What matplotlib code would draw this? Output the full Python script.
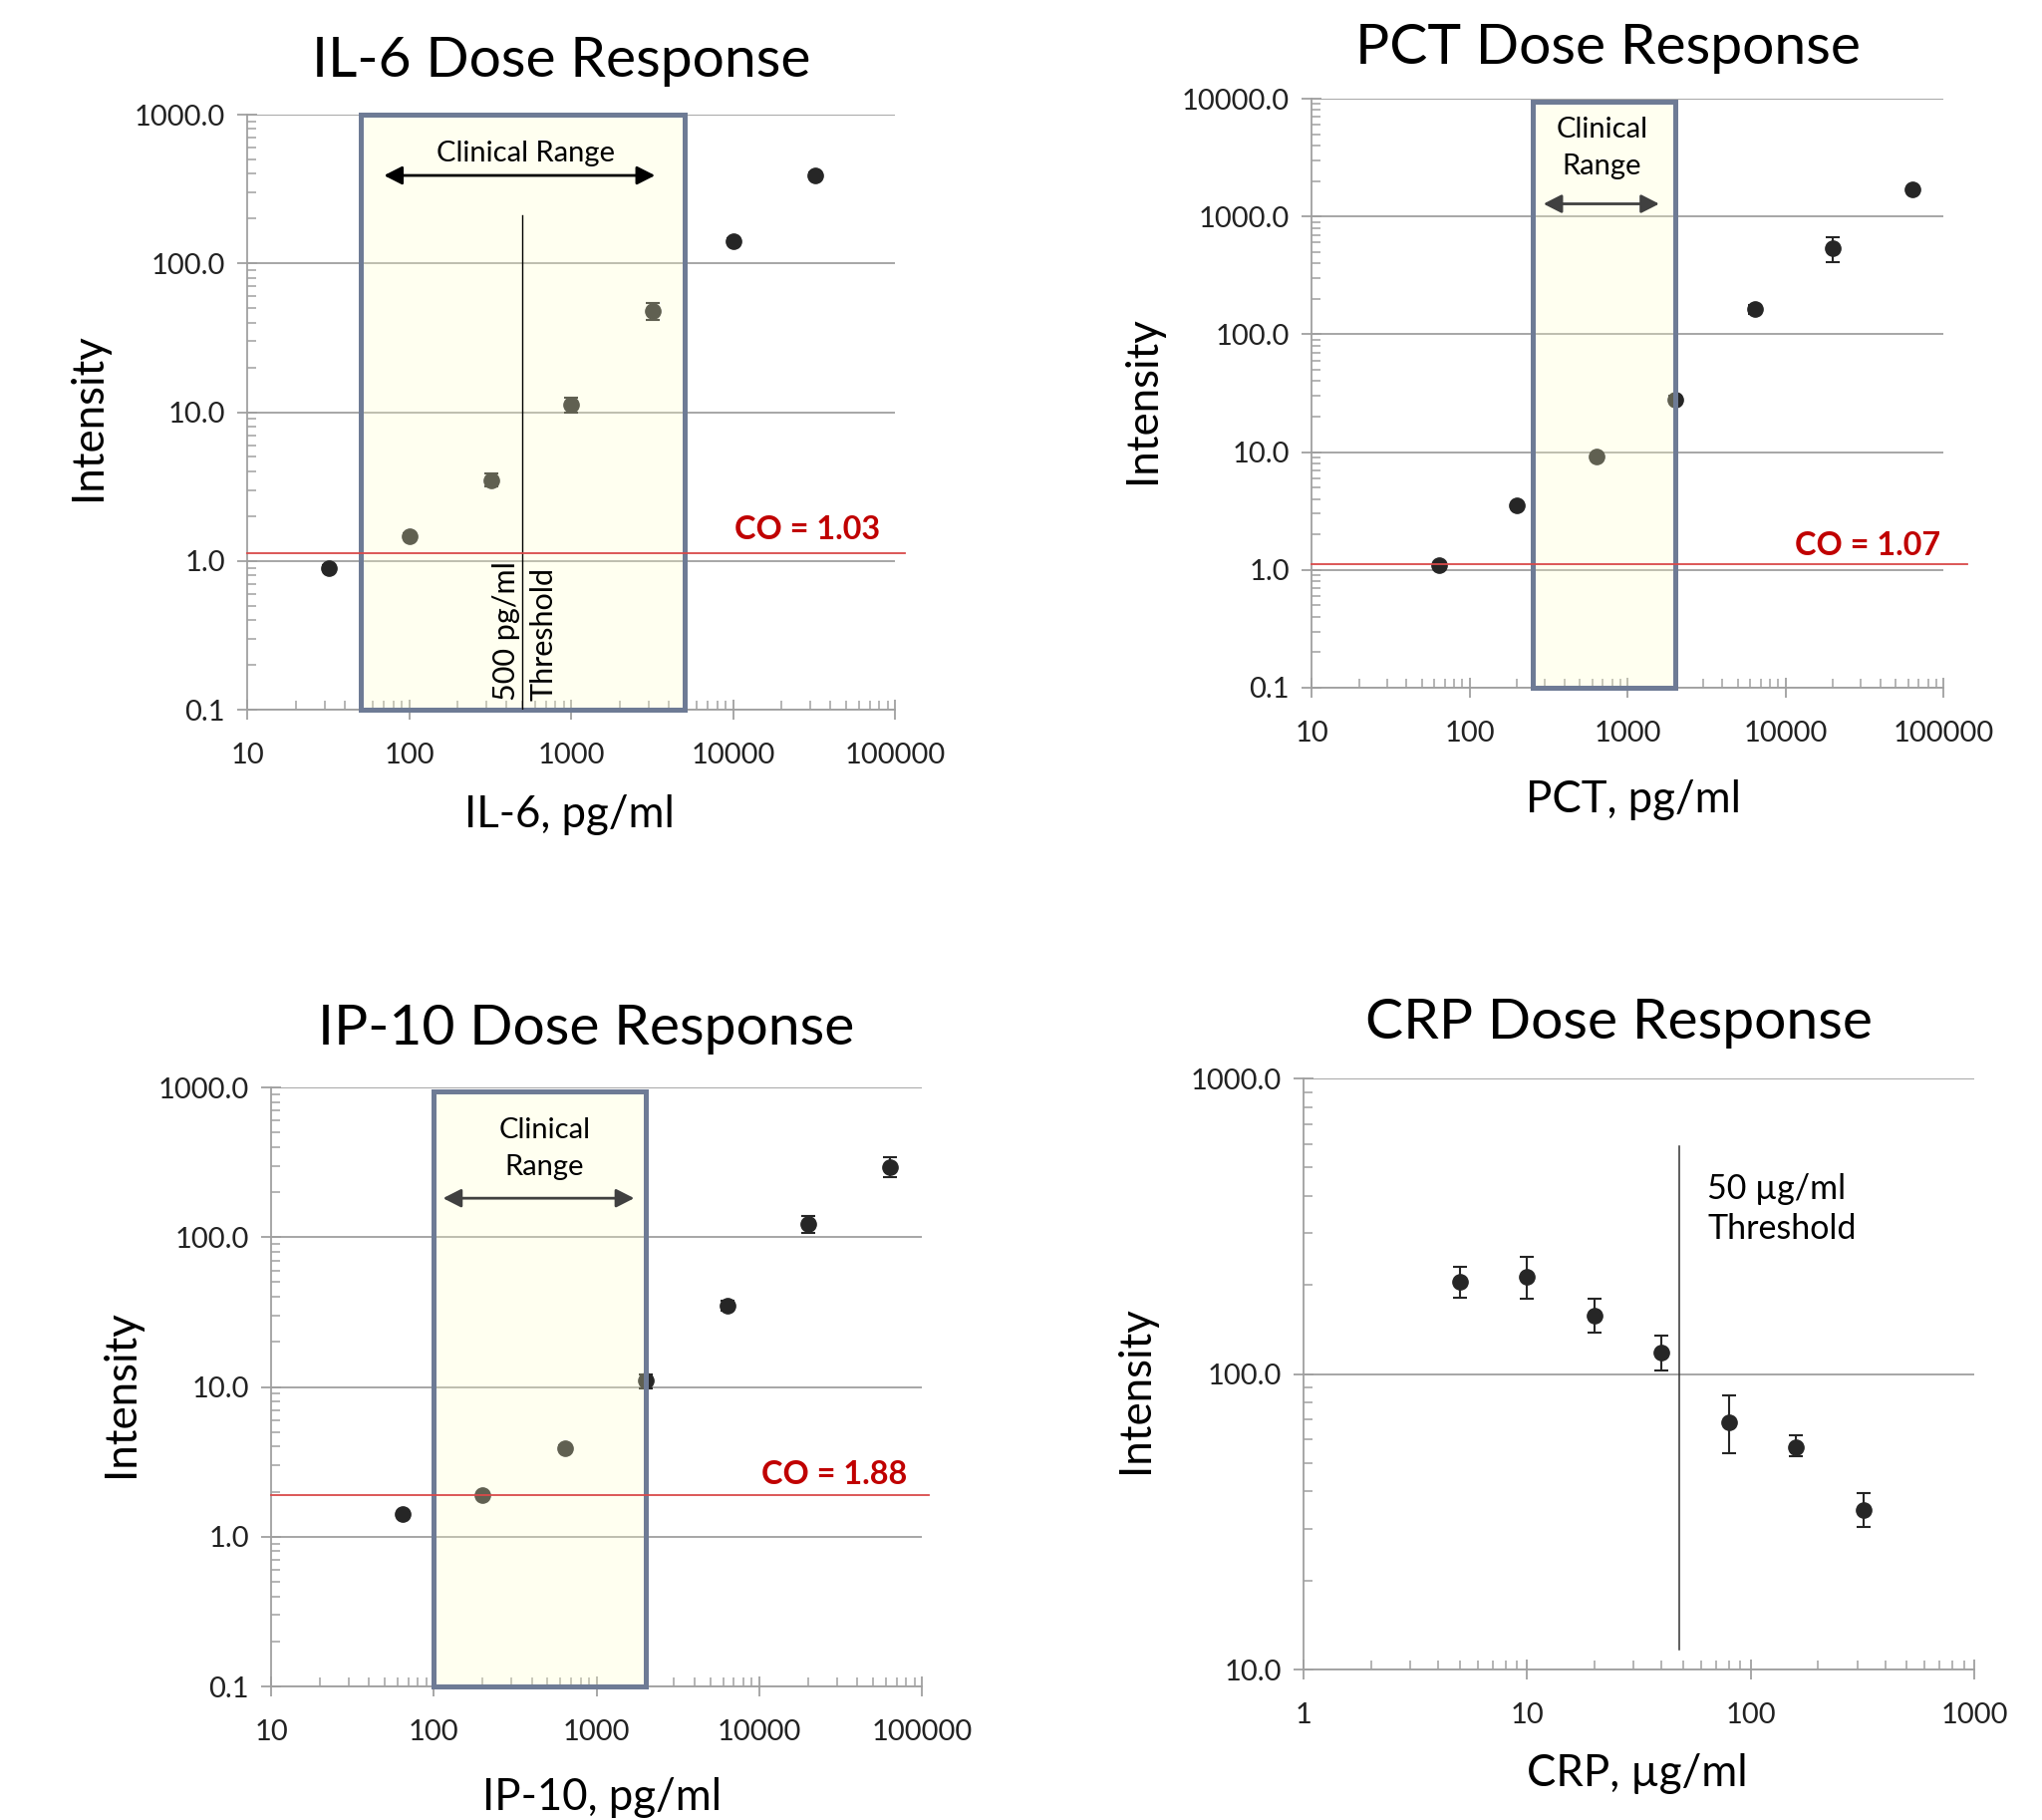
import matplotlib
matplotlib.use('Agg')
import matplotlib.pyplot as plt
from matplotlib.patches import Rectangle
from matplotlib.ticker import FixedLocator, FixedFormatter, LogLocator, NullFormatter
import numpy as np

plt.rcParams['font.family'] = ['Lato', 'DejaVu Sans']

# ---------------- data ----------------
il6_conc = [32, 100, 320, 1000, 3200, 10000, 32000]
il6_int = [0.90, 1.47, 3.5, 11.2, 48, 142, 390]
il6_err = [0.03, 0.06, 0.35, 1.3, 6.5, 6, 18]
il6_range = (50, 5000)
il6_co_label = "CO = 1.03"
il6_co_line = 1.13
il6_threshold = 500

pct_conc = [64, 200, 640, 2000, 6400, 20000, 64000]
pct_int = [1.1, 3.5, 9.2, 28.1, 163, 540, 1700]
pct_err = [0.04, 0.12, 0.4, 2.0, 14, 130, 60]
pct_range = (250, 2000)
pct_co_label = "CO = 1.07"
pct_co_line = 1.13

ip10_conc = [64, 200, 640, 2000, 6400, 20000, 64000]
ip10_int = [1.41, 1.9, 3.9, 11.0, 35, 122, 295]
ip10_err = [0.06, 0.06, 0.15, 1.2, 2.5, 16, 45]
ip10_range = (100, 2000)
ip10_co_label = "CO = 1.88"
ip10_co_line = 1.9

crp_conc = [5, 10, 20, 40, 80, 160, 320]
crp_int = [205, 213, 157, 118, 68.6, 56.5, 34.7]
crp_low = [181, 180, 138, 103, 54, 52.7, 30.3]
crp_high = [231, 249, 180, 135, 84.6, 62, 39.5]
crp_threshold = 48

x_ticks_pg = [10, 100, 1000, 10000, 100000]
x_labels_pg = ["10", "100", "1000", "10000", "100000"]
y_ticks_4 = [0.1, 1, 10, 100, 1000]
y_labels_4 = ["0.1", "1.0", "10.0", "100.0", "1000.0"]
y_ticks_5 = [0.1, 1, 10, 100, 1000, 10000]
y_labels_5 = ["0.1", "1.0", "10.0", "100.0", "1000.0", "10000.0"]
crp_x_ticks = [1, 10, 100, 1000]
crp_x_labels = ["1", "10", "100", "1000"]
crp_y_ticks = [10, 100, 1000]
crp_y_labels = ["10.0", "100.0", "1000.0"]

# ---------------- style ----------------
GRID = '#A6A6A6'
AXC = '#A0A0A0'
PT = '#262626'
RED_LINE = '#D94A4A'
RED_TXT = '#C00000'
BOX_EDGE = '#6E7B95'
TICK_TXT = '#222222'

W, H = 2049, 1826
fig = plt.figure(figsize=(W / 100, H / 100), dpi=100)


def make_axes(px, xlim, ylim, xt, xl, yt, yl, title, xlabel, title_xy, xlabel_xy, ylabel_xy):
    L, R, T, B = px
    ax = fig.add_axes([L / W, 1 - B / H, (R - L) / W, (B - T) / H])
    ax.set_xscale('log')
    ax.set_yscale('log')
    ax.set_xlim(*xlim)
    ax.set_ylim(*ylim)
    ax.xaxis.set_major_locator(FixedLocator(xt))
    ax.xaxis.set_major_formatter(FixedFormatter(xl))
    ax.yaxis.set_major_locator(FixedLocator(yt))
    ax.yaxis.set_major_formatter(FixedFormatter(yl))
    ax.xaxis.set_minor_locator(LogLocator(base=10, subs=np.arange(2, 10)))
    ax.yaxis.set_minor_locator(LogLocator(base=10, subs=np.arange(2, 10)))
    ax.xaxis.set_minor_formatter(NullFormatter())
    ax.yaxis.set_minor_formatter(NullFormatter())
    for s in ['top', 'right']:
        ax.spines[s].set_visible(False)
    for s in ['left', 'bottom']:
        ax.spines[s].set_color(AXC)
        ax.spines[s].set_linewidth(1.3)
    ax.tick_params(axis='both', which='major', direction='inout', length=14, width=1.3,
                   color=AXC, labelsize=21, labelcolor=TICK_TXT)
    ax.tick_params(axis='x', which='major', pad=16.5)
    ax.tick_params(axis='y', which='major', pad=9)
    ax.tick_params(axis='both', which='minor', direction='in', length=6.5, width=1.1, color=AXC)
    ax.grid(axis='y', which='major', color=GRID, lw=1.4)
    ax.set_axisbelow(True)
    ax.text(title_xy[0], title_xy[1], title, transform=ax.transAxes, ha='center', va='center',
            fontsize=41, color='black')
    ax.set_xlabel(xlabel, fontsize=31.5)
    ax.xaxis.set_label_coords(*xlabel_xy)
    ax.xaxis.label.set_va('center')
    ax.set_ylabel('Intensity', fontsize=31.5)
    ax.yaxis.set_label_coords(*ylabel_xy)
    ax.yaxis.label.set_va('center')
    return ax


def points(ax, x, y, err):
    ax.errorbar(x, y, yerr=err, fmt='o', ms=11, color=PT, mec=PT, ecolor=PT,
                elinewidth=1.5, capsize=5, capthick=1.5, zorder=2)


def clin_box(ax, rng, top, bottom):
    ax.add_patch(Rectangle((rng[0], bottom), rng[1] - rng[0], top - bottom,
                           facecolor='#FFFFC8', alpha=0.27, edgecolor='none', zorder=3))
    ax.add_patch(Rectangle((rng[0], bottom), rng[1] - rng[0], top - bottom,
                           facecolor='none', edgecolor=BOX_EDGE, lw=3.6, zorder=3.5,
                           clip_on=False))


def arrow(ax, x1, x2, y, color):
    ax.annotate('', xy=(x2, y), xytext=(x1, y),
                arrowprops=dict(arrowstyle='<|-|>,head_length=0.55,head_width=0.28',
                                mutation_scale=20, lw=2, color=color,
                                shrinkA=0, shrinkB=0), zorder=5)


def co(ax, xmin, xmax, yline, label, tx, ty):
    ax.plot([xmin, xmax], [yline, yline], color=RED_LINE, lw=1.3, clip_on=False, zorder=4)
    ax.text(tx, ty, label, color=RED_TXT, fontsize=23.3, fontweight='bold',
            ha='right', va='center', zorder=5)


# ---------------- IL-6 ----------------
ax1 = make_axes((248, 898, 115, 712), (10, 100000), (0.1, 1000), x_ticks_pg, x_labels_pg,
                y_ticks_4, y_labels_4, 'IL-6 Dose Response', 'IL-6, pg/ml',
                (0.485, 1.090), (0.498, -0.176), (-0.245, 0.492))
points(ax1, il6_conc, il6_int, il6_err)
clin_box(ax1, il6_range, 1000, 0.1)
arrow(ax1, 70, 3300, 390, 'black')
ax1.text(525, 550, 'Clinical Range', fontsize=21, ha='center', va='center', zorder=5)
ax1.plot([il6_threshold, il6_threshold], [0.1, 210], color='black', lw=1.0, zorder=4)
ax1.text(398, 0.115, '500 pg/ml', rotation=90, fontsize=22, ha='center', va='bottom', zorder=5)
ax1.text(673, 0.115, 'Threshold', rotation=90, fontsize=22, ha='center', va='bottom', zorder=5)
co(ax1, 10, 116000, il6_co_line, il6_co_label, 81500, 1.62)

# ---------------- PCT ----------------
ax2 = make_axes((1316, 1950, 99, 690), (10, 100000), (0.1, 10000), x_ticks_pg, x_labels_pg,
                y_ticks_5, y_labels_5, 'PCT Dose Response', 'PCT, pg/ml',
                (0.470, 1.086), (0.509, -0.190), (-0.268, 0.489))
points(ax2, pct_conc, pct_int, pct_err)
clin_box(ax2, pct_range, 9500, 0.1)
arrow(ax2, 294, 1590, 1280, '#404040')
ax2.text(690, 3800, 'Clinical\nRange', fontsize=21, ha='center', va='center',
         linespacing=1.5, zorder=5)
co(ax2, 10, 141000, pct_co_line, pct_co_label, 96000, 1.62)

# ---------------- IP-10 ----------------
ax3 = make_axes((272, 925, 1091, 1692), (10, 100000), (0.1, 1000), x_ticks_pg, x_labels_pg,
                y_ticks_4, y_labels_4, 'IP-10 Dose Response', 'IP-10, pg/ml',
                (0.484, 1.098), (0.508, -0.185), (-0.230, 0.489))
points(ax3, ip10_conc, ip10_int, ip10_err)
clin_box(ax3, ip10_range, 940, 0.1)
arrow(ax3, 114, 1706, 182, '#404040')
ax3.text(479, 390, 'Clinical\nRange', fontsize=21, ha='center', va='center',
         linespacing=1.5, zorder=5)
co(ax3, 10, 110000, ip10_co_line, ip10_co_label, 81700, 2.61)

# ---------------- CRP ----------------
ax4 = make_axes((1308, 1981, 1082, 1675), (1, 1000), (10, 1000), crp_x_ticks, crp_x_labels,
                crp_y_ticks, crp_y_labels, 'CRP Dose Response', 'CRP, µg/ml',
                (0.470, 1.094), (0.498, -0.177), (-0.250, 0.474))
crp_int_a = np.array(crp_int)
crp_err = [crp_int_a - np.array(crp_low), np.array(crp_high) - crp_int_a]
points(ax4, crp_conc, crp_int, crp_err)
ax4.plot([crp_threshold, crp_threshold], [11.7, 592], color='#333333', lw=1.1, zorder=4)
ax4.text(64, 362, '50 µg/ml\nThreshold', fontsize=24.5, ha='left', va='center',
         linespacing=1.3, zorder=5)

fig.savefig('out.png', dpi=100, facecolor='white')
